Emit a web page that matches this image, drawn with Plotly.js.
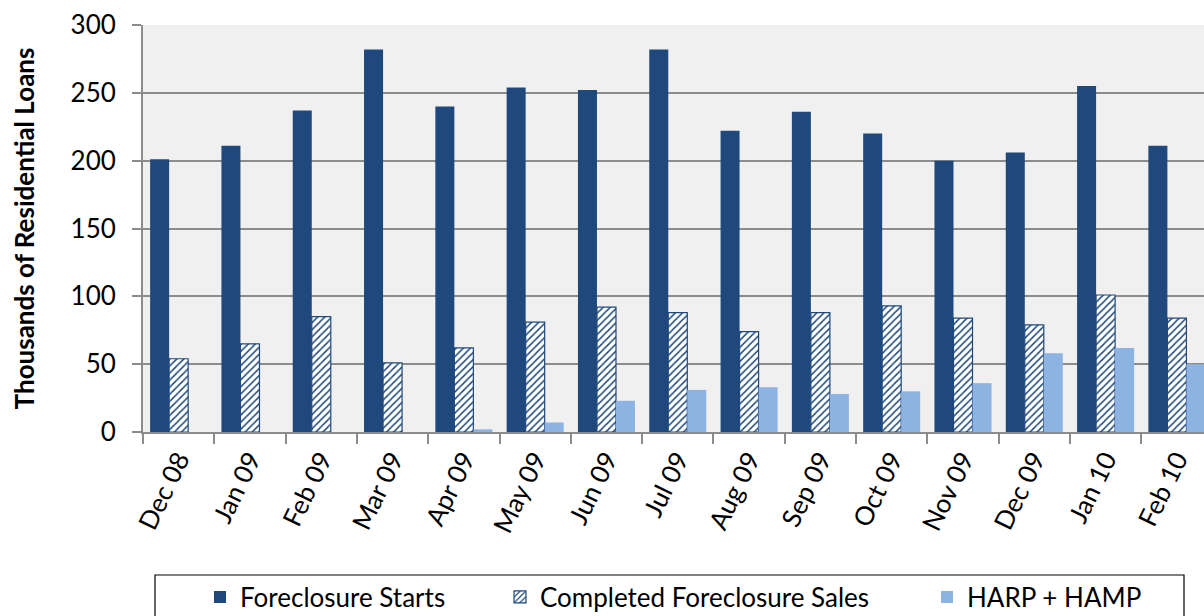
<!DOCTYPE html>
<html>
<head>
<meta charset="utf-8">
<script src="https://cdn.plot.ly/plotly-3.0.1.min.js"></script>
<style>html,body{margin:0;padding:0;background:#fff;}#chart{width:1204px;height:616px;}</style>
</head>
<body>
<div id="chart"></div>
<script>
const months = ["Dec 08","Jan 09","Feb 09","Mar 09","Apr 09","May 09","Jun 09","Jul 09","Aug 09","Sep 09","Oct 09","Nov 09","Dec 09","Jan 10","Feb 10"];
const foreclosureStarts = [201,211,237,282,240,254,252,282,222,236,220,200,206,255,211];
const completedSales = [54,65,85,51,62,81,92,88,74,88,93,84,79,101,84];
const harpHamp = [0,0,0,0,2,7,23,31,33,28,30,36,58,62,50];
const yTicks = [0,50,100,150,200,250,300];

const FONT = "Lato, 'Open Sans', sans-serif";
const DARK = "#1f497d";
const LIGHT = "#8db3e2";
const FS = 26;

const traces = [
  {type:"bar", name:"Foreclosure Starts", x:months, y:foreclosureStarts,
   marker:{color:DARK, line:{width:0}}, legend:"legend"},
  {type:"bar", name:"Completed Foreclosure Sales", x:months, y:completedSales,
   marker:{color:"#ffffff", line:{color:DARK, width:1.2},
           pattern:{shape:"/", fgcolor:DARK, bgcolor:"#ffffff", size:5, solidity:0.3}},
   legend:"legend2"},
  {type:"bar", name:"HARP + HAMP", x:months, y:harpHamp,
   marker:{color:LIGHT, line:{width:0}}, legend:"legend3"}
];

const legendBase = {orientation:"h", xanchor:"left", yanchor:"middle",
  yref:"container", y:(616-597)/616,
  bgcolor:"rgba(0,0,0,0)", borderwidth:0, font:{family:FONT, size:FS, color:"#000"}};

const layout = {
  width:1204, height:616,
  margin:{l:143, r:0, t:25, b:184},
  paper_bgcolor:"#ffffff",
  plot_bgcolor:"#f0f0f0",
  barmode:"group", bargap:0.2, bargroupgap:0,
  font:{family:FONT, size:FS, color:"#000"},
  xaxis:{type:"category", range:[-0.5,14.38], tickangle:-64,
    tickson:"boundaries", ticks:"outside", ticklen:10, tickwidth:2, tickcolor:"#8c8c8c",
    showline:true, linecolor:"#8c8c8c", linewidth:2, showgrid:false,
    tickfont:{family:FONT, size:FS, color:"#000"}},
  yaxis:{range:[0,300], tickvals:yTicks, ticks:"outside", ticklen:9, tickwidth:2, tickcolor:"#8c8c8c",
    showline:true, linecolor:"#8c8c8c", linewidth:2, showgrid:true, gridcolor:"#8c8c8c", gridwidth:2,
    zeroline:false, ticklabelstandoff:11,
    tickfont:{family:FONT, size:FS, color:"#000"},
    title:{text:"<b>Thousands of Residential Loans</b>", standoff:28, font:{family:FONT, size:FS, color:"#000"}}},
  showlegend:true,
  legend:Object.assign({}, legendBase, {x:(200-143)/1061}),
  legend2:Object.assign({}, legendBase, {x:(500-143)/1061}),
  legend3:Object.assign({}, legendBase, {x:(927-143)/1061}),
  shapes:[{type:"rect", xref:"paper", yref:"paper", x0:(155-143)/1061, x1:(1184-143)/1061,
    y0:(432-575)/407, y1:(432-640)/407, line:{color:"#000", width:1.2}, fillcolor:"rgba(0,0,0,0)", layer:"below"}]
};

Plotly.newPlot("chart", traces, layout, {staticPlot:true, displayModeBar:false});
</script>
</body>
</html>
